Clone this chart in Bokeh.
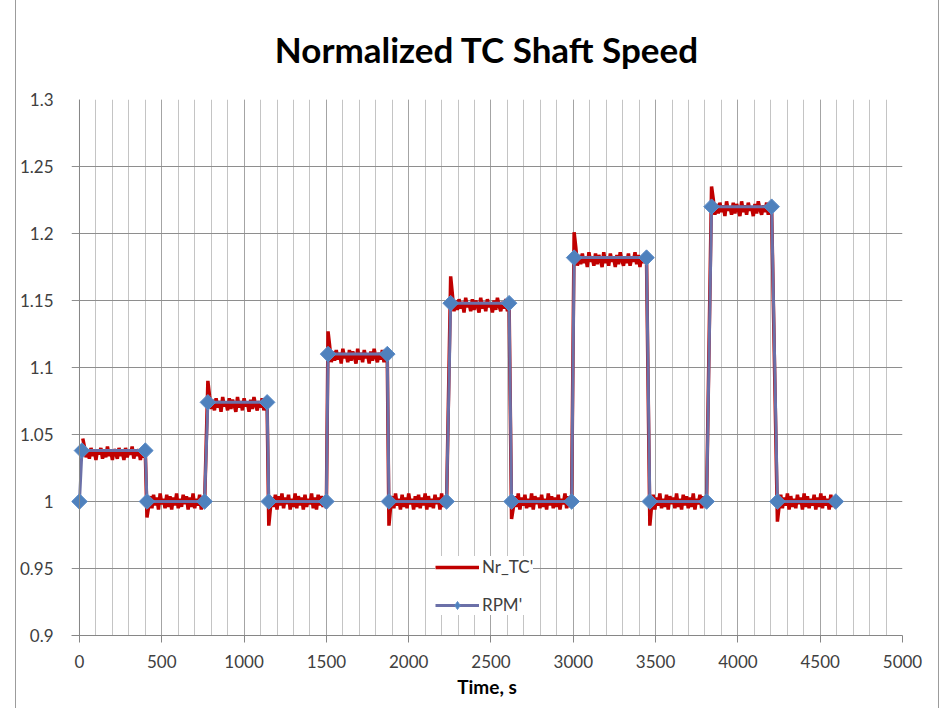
import numpy as np
from bokeh.plotting import figure
from bokeh.models import Range1d, FixedTicker, Span, Legend, LegendItem, Spacer
from bokeh.layouts import row
from bokeh.embed import file_html
from bokeh.resources import INLINE

# RPM' set points: time (s) and normalized speed
rpm_time = [0, 15, 400, 410, 760, 780, 1140, 1150, 1500, 1510, 1870, 1880,
            2230, 2255, 2610, 2625, 2990, 3005, 3445, 3465, 3810, 3840, 4205, 4240, 4595]
rpm_value = [1.0, 1.038, 1.038, 1.0, 1.0, 1.074, 1.074, 1.0, 1.0, 1.110, 1.110, 1.0,
             1.0, 1.148, 1.148, 1.0, 1.0, 1.182, 1.182, 1.0, 1.0, 1.220, 1.220, 1.0, 1.0]

# Nr_TC' measured trace, one list per plateau (samples spread evenly from start to end time)
nr_tc_start = [20, 410, 780, 1150, 1510, 1880, 2255, 2625, 3005, 3465, 3840, 4240]
nr_tc_end = [400, 760, 1140, 1500, 1870, 2230, 2610, 2990, 3445, 3810, 4205, 4595]

nr_tc_seg1 = [1.047, 1.041, 1.033, 1.039, 1.032, 1.040, 1.034, 1.038, 1.031, 1.039, 1.035, 1.040, 1.032,
              1.037, 1.033, 1.041, 1.034, 1.038, 1.031, 1.039, 1.036, 1.032, 1.040, 1.034, 1.037, 1.031,
              1.040, 1.033, 1.038, 1.035, 1.041, 1.032, 1.037, 1.034, 1.039, 1.031, 1.038, 1.033, 1.036]
nr_tc_seg2 = [0.988, 0.996, 1.004, 0.995, 1.005, 0.997, 1.003, 0.994, 1.006, 0.998, 1.002, 0.995,
              1.005, 0.996, 1.004, 0.994, 1.003, 0.997, 1.006, 0.995, 1.002, 0.996, 1.005, 0.998,
              1.004, 0.994, 1.003, 0.996, 1.006, 0.995, 1.002, 0.997, 1.005, 0.994, 1.004, 0.998]
nr_tc_seg3 = [1.090, 1.079, 1.069, 1.076, 1.068, 1.077, 1.070, 1.075, 1.067, 1.078, 1.071, 1.074, 1.068,
              1.077, 1.069, 1.076, 1.072, 1.067, 1.078, 1.070, 1.075, 1.068, 1.077, 1.071, 1.074, 1.067,
              1.076, 1.069, 1.078, 1.072, 1.068, 1.075, 1.070, 1.077, 1.068, 1.074, 1.071]
nr_tc_seg4 = [0.982, 0.995, 1.003, 0.996, 1.005, 0.994, 1.004, 0.997, 1.006, 0.995, 1.003, 0.998,
              1.005, 0.994, 1.002, 0.996, 1.006, 0.995, 1.004, 0.997, 1.003, 0.994, 1.005, 0.996,
              1.002, 0.998, 1.006, 0.995, 1.003, 0.994, 1.005, 0.997, 1.004, 0.996, 1.002, 0.995]
nr_tc_seg5 = [1.127, 1.116, 1.104, 1.112, 1.105, 1.113, 1.106, 1.111, 1.103, 1.114, 1.107, 1.110, 1.104,
              1.113, 1.105, 1.112, 1.108, 1.103, 1.114, 1.106, 1.111, 1.104, 1.113, 1.107, 1.110, 1.103,
              1.112, 1.105, 1.114, 1.108, 1.104, 1.111, 1.106, 1.113, 1.104, 1.110, 1.107]
nr_tc_seg6 = [0.982, 0.996, 1.004, 0.995, 1.006, 0.997, 1.002, 0.994, 1.005, 0.996, 1.003, 0.995,
              1.006, 0.998, 1.002, 0.994, 1.004, 0.996, 1.005, 0.995, 1.003, 0.997, 1.006, 0.994,
              1.004, 0.996, 1.002, 0.995, 1.005, 0.998, 1.003, 0.994, 1.006, 0.996, 1.004, 0.997]
nr_tc_seg7 = [1.168, 1.155, 1.142, 1.150, 1.143, 1.151, 1.144, 1.149, 1.141, 1.152, 1.145, 1.148,
              1.142, 1.151, 1.143, 1.150, 1.146, 1.141, 1.152, 1.144, 1.149, 1.142, 1.151, 1.145,
              1.148, 1.141, 1.150, 1.143, 1.152, 1.146, 1.142, 1.149, 1.144, 1.151, 1.142, 1.147]
nr_tc_seg8 = [0.987, 0.995, 1.004, 0.996, 1.006, 0.994, 1.003, 0.997, 1.005, 0.995, 1.002, 0.996,
              1.006, 0.994, 1.004, 0.998, 1.003, 0.995, 1.005, 0.996, 1.002, 0.994, 1.006, 0.997,
              1.004, 0.995, 1.003, 0.996, 1.005, 0.994, 1.002, 0.998, 1.006, 0.995, 1.004, 0.996, 1.003]
nr_tc_seg9 = [1.201, 1.190, 1.176, 1.184, 1.177, 1.185, 1.178, 1.183, 1.175, 1.186, 1.179, 1.182,
              1.176, 1.185, 1.177, 1.184, 1.180, 1.175, 1.186, 1.178, 1.183, 1.176, 1.185, 1.179,
              1.182, 1.175, 1.184, 1.177, 1.186, 1.180, 1.176, 1.183, 1.178, 1.185, 1.176, 1.182,
              1.179, 1.186, 1.177, 1.184, 1.175, 1.183, 1.178, 1.185, 1.180]
nr_tc_seg10 = [0.982, 0.996, 1.005, 0.994, 1.003, 0.997, 1.006, 0.995, 1.002, 0.996, 1.005, 0.994,
               1.004, 0.998, 1.003, 0.995, 1.006, 0.996, 1.002, 0.994, 1.005, 0.997, 1.004, 0.995,
               1.003, 0.996, 1.006, 0.994, 1.002, 0.998, 1.005, 0.995, 1.004, 0.996, 1.003]
nr_tc_seg11 = [1.235, 1.226, 1.214, 1.222, 1.215, 1.223, 1.216, 1.221, 1.213, 1.224, 1.217, 1.220,
               1.214, 1.223, 1.215, 1.222, 1.218, 1.213, 1.224, 1.216, 1.221, 1.214, 1.223, 1.217,
               1.220, 1.213, 1.222, 1.215, 1.224, 1.218, 1.214, 1.221, 1.216, 1.223, 1.214, 1.220, 1.217]
nr_tc_seg12 = [0.985, 0.996, 1.005, 0.995, 1.003, 0.997, 1.006, 0.994, 1.004, 0.996, 1.002, 0.995,
               1.005, 0.998, 1.003, 0.994, 1.006, 0.996, 1.004, 0.995, 1.002, 0.997, 1.005, 0.994,
               1.003, 0.996, 1.006, 0.995, 1.004, 0.997, 1.002, 0.994, 1.005, 0.996, 1.003, 0.995]

nr_tc_segments = [nr_tc_seg1, nr_tc_seg2, nr_tc_seg3, nr_tc_seg4, nr_tc_seg5, nr_tc_seg6,
                  nr_tc_seg7, nr_tc_seg8, nr_tc_seg9, nr_tc_seg10, nr_tc_seg11, nr_tc_seg12]

# axis ticks
x_ticks = [0, 500, 1000, 1500, 2000, 2500, 3000, 3500, 4000, 4500, 5000]
x_minor_ticks = list(range(0, 5001, 100))
y_ticks = [0.9, 0.95, 1.0, 1.05, 1.1, 1.15, 1.2, 1.25, 1.3]
y_tick_labels = ["0.9", "0.95", "1", "1.05", "1.1", "1.15", "1.2", "1.25", "1.3"]

# assemble the measured trace
nr_t, nr_v = [], []
for t0, t1, seg in zip(nr_tc_start, nr_tc_end, nr_tc_segments):
    nr_t.extend(np.linspace(t0, t1, len(seg)).tolist())
    nr_v.extend(seg)

FONT = "Lato"
TEXT_GREY = "#404040"
RED = "#C00000"
LINE_BLUE = "#6b70a8"
MARKER_BLUE = "#4F81BD"

p = figure(width=924, height=708,
           x_range=Range1d(-48.5, 5000), y_range=Range1d(0.9, 1.3),
           output_backend="svg", toolbar_location=None,
           min_border_left=54, min_border_right=38,
           min_border_top=99, min_border_bottom=73)

p.background_fill_color = "white"
p.border_fill_color = "white"
p.outline_line_color = None

p.title.text = "Normalized TC Shaft Speed"
p.title.align = "center"
p.title.vertical_align = "top"
p.title.text_font = FONT
p.title.text_font_size = "35px"
p.title.text_font_style = "bold"
p.title.text_color = "#000000"
p.title.standoff = 55

# x axis
xa = p.xaxis[0]
xa.ticker = FixedTicker(ticks=x_ticks, minor_ticks=x_minor_ticks)
xa.axis_line_color = "#868686"
xa.major_tick_line_color = "#868686"
xa.major_tick_out = 7
xa.major_tick_in = 0
xa.minor_tick_line_color = None
xa.major_label_text_font = FONT
xa.major_label_text_font_size = "17px"
xa.major_label_text_color = TEXT_GREY
xa.major_label_standoff = 12
xa.axis_label = "Time, s"
xa.axis_label_text_font = FONT
xa.axis_label_text_font_size = "19px"
xa.axis_label_text_font_style = "bold"
xa.axis_label_text_color = "#000000"
xa.axis_label_standoff = 4

# y axis: labels only, the frame edge stands in for the tick marks
ya = p.yaxis[0]
ya.ticker = FixedTicker(ticks=y_ticks)
ya.major_label_overrides = {t: s for t, s in zip(y_ticks, y_tick_labels)}
ya.axis_line_color = None
ya.major_tick_line_color = None
ya.minor_tick_line_color = None
ya.major_label_text_font = FONT
ya.major_label_text_font_size = "17px"
ya.major_label_text_color = TEXT_GREY
ya.major_label_standoff = 12

# grids
p.xgrid[0].grid_line_color = "#a4a4a4"
p.xgrid[0].minor_grid_line_color = "#c4c4c4"
p.ygrid[0].grid_line_color = "#8e8e8e"

p.add_layout(Span(location=0, dimension="height", line_color="#868686", line_width=1))

red = p.line(nr_t, nr_v, line_color=RED, line_width=3.5)
blue_line = p.line(rpm_time, rpm_value, line_color=LINE_BLUE, line_width=3)
# diamond used for the legend swatch; sits beneath the first set-point marker
legend_pts = p.scatter(rpm_time[:1], rpm_value[:1], marker="diamond", size=13,
                       fill_color=MARKER_BLUE, line_color="#5b8cc8", line_width=1)
blue_pts = p.scatter(rpm_time, rpm_value, marker="square", size=11, angle=np.pi / 4,
                     fill_color=MARKER_BLUE, line_color="#5b8cc8", line_width=1)

legend = Legend(items=[LegendItem(label="Nr_TC'", renderers=[red]),
                       LegendItem(label="RPM'", renderers=[blue_line, legend_pts])],
                location=(364, 20))
legend.background_fill_color = "white"
legend.background_fill_alpha = 1.0
legend.border_line_color = None
legend.label_text_font = FONT
legend.label_text_font_size = "17px"
legend.label_text_color = TEXT_GREY
legend.glyph_width = 44
legend.glyph_height = 20
legend.label_height = 20
legend.spacing = 17
legend.padding = 6
legend.label_standoff = 3
p.add_layout(legend)

p.styles = {"border-left": "1px solid #9c9c9c", "border-right": "1px solid #9c9c9c"}

layout = row(Spacer(width=15, height=708), p)

open("out.html", "w").write(file_html(layout, INLINE))
